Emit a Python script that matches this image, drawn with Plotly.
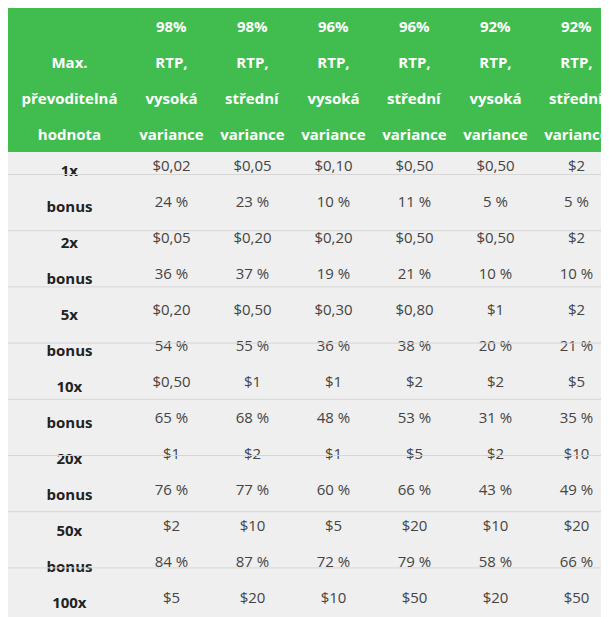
import plotly.graph_objects as go

# data
header_lines = [
    ["", "Max.", "převoditelná", "hodnota"],
    ["98%", "RTP,", "vysoká", "variance"], ["98%", "RTP,", "střední", "variance"],
    ["96%", "RTP,", "vysoká", "variance"], ["96%", "RTP,", "střední", "variance"],
    ["92%", "RTP,", "vysoká", "variance"], ["92%", "RTP,", "střední", "variance"],
]
limits = [("1x", "bonus"), ("2x", "bonus"), ("5x", "bonus"), ("10x", "bonus"), ("20x", "bonus"),
          ("50x", "bonus"), ("100x", "bonus"), ("200x", "bonus"), ("neomezený", "")]
bets = [
    ["$0,02", "$0,05", "$0,20", "$0,50", "$1", "$2", "$5", "$10", "$100"],
    ["$0,05", "$0,20", "$0,50", "$1", "$2", "$10", "$20", "$50", "$100"],
    ["$0,10", "$0,20", "$0,30", "$1", "$1", "$5", "$10", "$20", "$100"],
    ["$0,50", "$0,50", "$0,80", "$2", "$5", "$20", "$50", "$100", "$100"],
    ["$0,50", "$0,50", "$1", "$2", "$2", "$10", "$20", "$20", "$100"],
    ["$2", "$2", "$2", "$5", "$10", "$20", "$50", "$100", "$100"],
]
chances = [
    ["24 %", "36 %", "54 %", "65 %", "76 %", "84 %", "88 %", "91 %", "95,46 %"],
    ["23 %", "37 %", "55 %", "68 %", "77 %", "87 %", "90 %", "93 %", "94,74 %"],
    ["10 %", "19 %", "36 %", "48 %", "60 %", "72 %", "79 %", "83 %", "90 %"],
    ["11 %", "21 %", "38 %", "53 %", "66 %", "79 %", "85 %", "89 %", "90 %"],
    ["5 %", "10 %", "20 %", "31 %", "43 %", "58 %", "66 %", "72 %", "82 %"],
    ["5 %", "10 %", "21 %", "35 %", "49 %", "66 %", "75 %", "81 %", "82 %"],
]

W, H = 609, 617
head_h, line_h = 26, 28.1
widths = [123] + [81] * 6
GREEN, GREY = "#41bd4f", "#efefef"

n_head = 3  # header lines after the first, drawn as green cell rows
cols, fills, colors = [], [], []
for ci, hl in enumerate(header_lines):
    vals = ["<b>%s</b>" % s if s else "" for s in hl[1:]]
    if ci == 0:
        for a, b in limits:
            vals += ["<b>%s</b>" % a, "<b>%s</b>" % b if b else ""]
        body_color = "#222"
    else:
        for x, y in zip(bets[ci - 1], chances[ci - 1]):
            vals += [x, y]
        body_color = "#444"
    cols.append(vals)
    fills.append([GREEN] * n_head + [GREY] * (2 * len(limits)))
    colors.append(["white"] * n_head + [body_color] * (2 * len(limits)))

fig = go.Figure(go.Table(
    columnwidth=widths,
    header=dict(values=["<b>%s</b>" % h[0] if h[0] else "" for h in header_lines],
                fill_color=GREEN, line_color=GREEN, align="center", height=head_h,
                font=dict(color="white", size=15, family="Open Sans")),
    cells=dict(values=cols, fill_color=fills, line_color=fills, align="center",
               height=line_h, font=dict(color=colors, size=15, family="Open Sans")),
))

# row separators
top = head_h + n_head * line_h
for i in range(1, len(limits)):
    y = 1 - (top + i * 2 * line_h) / H
    fig.add_shape(type="line", xref="paper", yref="paper", x0=0, x1=1, y0=y, y1=y,
                  line=dict(color="#d6d6d6", width=1))

fig.update_layout(width=W, height=H, margin=dict(l=0, r=0, t=0, b=0),
                  paper_bgcolor="white")
fig.write_html("out.html")
